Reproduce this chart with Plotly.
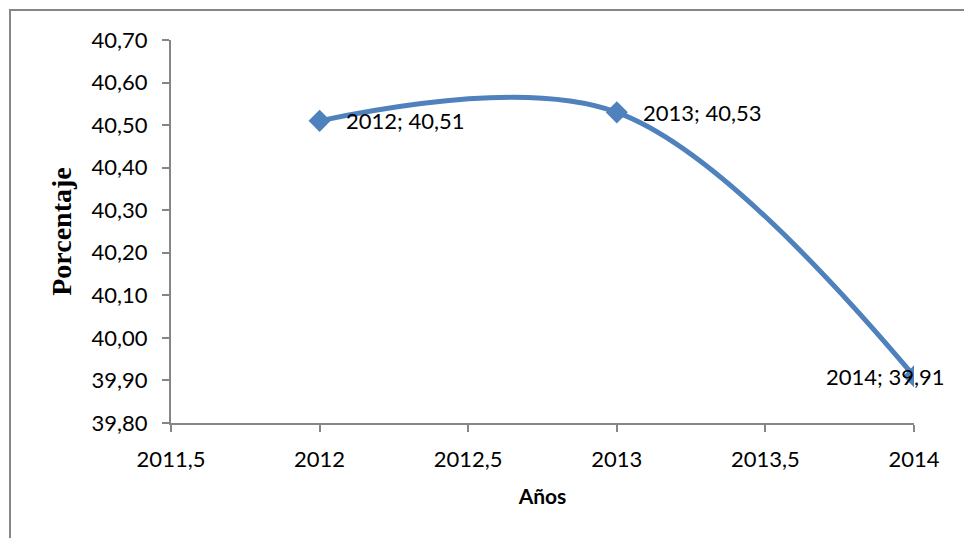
import plotly.graph_objects as go

years = [2012, 2013, 2014]
values = [40.51, 40.53, 39.91]
labels = ["2012; 40,51", "2013; 40,53", "2014; 39,91"]
xticks = [2011.5, 2012, 2012.5, 2013, 2013.5, 2014]
xticktext = ["2011,5", "2012", "2012,5", "2013", "2013,5", "2014"]
yticks = [39.8, 39.9, 40.0, 40.1, 40.2, 40.3, 40.4, 40.5, 40.6, 40.7]
yticktext = ["39,80", "39,90", "40,00", "40,10", "40,20", "40,30", "40,40", "40,50", "40,60", "40,70"]

color = "#4F81BD"
axis_color = "#868686"
font_family = "Lato, Open Sans, sans-serif"

fig = go.Figure()
fig.add_trace(go.Scatter(
    x=years, y=values, mode="lines+markers",
    line=dict(color=color, width=5, shape="spline", smoothing=1),
    marker=dict(symbol="diamond", size=17, color=color),
    showlegend=False, hoverinfo="skip",
))

anchors = ["left", "left", "right"]
shifts = [24, 24, 32]
for x, y, t, a, s in zip(years, values, labels, anchors, shifts):
    fig.add_annotation(x=x, y=y, text=t, showarrow=False, xanchor=a, yanchor="middle",
                       xshift=s, yshift=0, font=dict(size=22, color="black", family=font_family))

L, R, T, B = 171, 50, 40, 115
W, H = 964, 538
pw, ph = W - L - R, H - T - B

fig.add_shape(type="rect", xref="paper", yref="paper",
              x0=(10 - L) / pw, x1=(990 - L) / pw,
              y0=-2 * B / ph, y1=(H - B - 10) / ph,
              line=dict(color=axis_color, width=2), fillcolor="rgba(0,0,0,0)", layer="below")

fig.update_layout(
    width=W, height=H,
    margin=dict(l=L, r=R, t=T, b=B),
    plot_bgcolor="white", paper_bgcolor="white",
    font=dict(family=font_family, size=22, color="black"),
    xaxis=dict(
        range=[2011.5, 2014], tickvals=xticks, ticktext=xticktext,
        showgrid=False, zeroline=False, showline=True, linecolor=axis_color, linewidth=2,
        ticks="outside", ticklen=7, tickcolor=axis_color, tickwidth=2,
        ticklabelstandoff=9,
        title=dict(text="<b>Años</b>", font=dict(size=21, family=font_family), standoff=18),
    ),
    yaxis=dict(
        range=[39.8, 40.7], tickvals=yticks, ticktext=yticktext,
        showgrid=False, zeroline=False, showline=True, linecolor=axis_color, linewidth=2,
        ticks="outside", ticklen=7, tickcolor=axis_color, tickwidth=2,
        ticklabelstandoff=10,
        title=dict(text="<b>Porcentaje</b>", font=dict(size=28, family="Liberation Serif, Times New Roman, serif"), standoff=12),
    ),
)

fig.write_html("out.html")
